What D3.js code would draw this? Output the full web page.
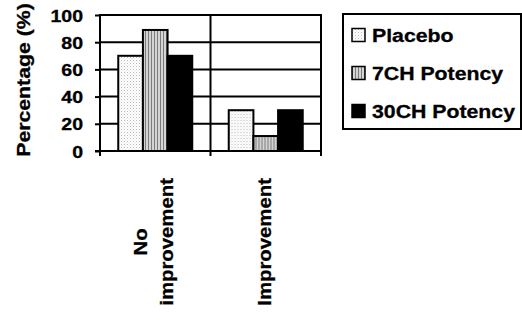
<!DOCTYPE html>
<html>
<head>
<meta charset="utf-8">
<script src="https://cdn.jsdelivr.net/npm/d3@7/dist/d3.min.js"></script>
<style>
  html, body { margin: 0; padding: 0; background: #fff; }
  svg { display: block; }
  text { font-family: "Liberation Sans", Arial, sans-serif; font-weight: bold; fill: #000;
         stroke: #000; stroke-width: 0.3px; }
</style>
</head>
<body>
<svg id="chart" width="522" height="320"></svg>
<script>
// Response categories (line breaks mark label wrapping)
const categories = ["No\nimprovement", "Improvement"];
const seriesNames = ["Placebo", "7CH Potency", "30CH Potency"];
// Percentage of patients in each response category, per treatment arm
const placebo = [70, 30];
const potency7CH = [89, 11];
const potency30CH = [70, 30];
const yTicks = [0, 20, 40, 60, 80, 100];
const yTitle = "Percentage (%)";

const seriesValues = [placebo, potency7CH, potency30CH];
const rows = categories.map((c, i) => ({
  category: c,
  values: seriesNames.map((s, j) => ({ series: s, value: seriesValues[j][i] }))
}));

const svg = d3.select("#chart");
const plot = { left: 100, right: 321, top: 15, bottom: 151 };
const stretch = 1.15;      // widened lettering for ticks, title and legend
const labelStretch = 1.1;  // category labels
const lineW = 2;

// Fill patterns
const defs = svg.append("defs");
const dots = defs.append("pattern").attr("id", "pat-dots")
  .attr("patternUnits", "userSpaceOnUse").attr("width", 3).attr("height", 3);
dots.append("rect").attr("width", 3).attr("height", 3).attr("fill", "#fff");
dots.append("rect").attr("x", 0).attr("y", 0).attr("width", 1).attr("height", 1).attr("fill", "#b8b8b8");
dots.append("rect").attr("x", 1.5).attr("y", 1.5).attr("width", 1).attr("height", 1).attr("fill", "#d8d8d8");

const stripes = defs.append("pattern").attr("id", "pat-stripes")
  .attr("patternUnits", "userSpaceOnUse").attr("width", 3).attr("height", 3);
stripes.append("rect").attr("width", 3).attr("height", 3).attr("fill", "#d4d4d4");
stripes.append("rect").attr("x", 0).attr("width", 1).attr("height", 3).attr("fill", "#7c7c7c");

const fills = d3.scaleOrdinal().domain(seriesNames)
  .range(["url(#pat-dots)", "url(#pat-stripes)", "#000"]);

// Scales
const x = d3.scaleBand().domain(categories).range([plot.left, plot.right]).paddingInner(0).paddingOuter(0);
const xs = d3.scaleBand().domain(seriesNames).range([0, x.bandwidth()]).paddingInner(0).paddingOuter(0.74);
const y = d3.scaleLinear().domain([0, 100]).range([plot.bottom, plot.top]);

// Horizontal gridlines
svg.append("g").selectAll("line").data(yTicks.filter(t => t > 0)).join("line")
  .attr("x1", plot.left).attr("x2", plot.right)
  .attr("y1", d => y(d)).attr("y2", d => y(d))
  .attr("stroke", "#000").attr("stroke-width", lineW);

// Vertical separators at category boundaries
const bounds = categories.map(c => x(c)).concat([x(categories[categories.length - 1]) + x.bandwidth()]);
svg.append("g").selectAll("line").data(bounds.slice(1)).join("line")
  .attr("x1", d => d).attr("x2", d => d)
  .attr("y1", plot.top - 1).attr("y2", plot.bottom)
  .attr("stroke", "#000").attr("stroke-width", lineW);

// Bars
const groups = svg.append("g").selectAll("g").data(rows).join("g")
  .attr("transform", d => `translate(${x(d.category)},0)`);
groups.selectAll("rect").data(d => d.values).join("rect")
  .attr("x", d => xs(d.series))
  .attr("width", xs.bandwidth())
  .attr("y", d => y(d.value))
  .attr("height", d => y(0) - y(d.value))
  .attr("fill", d => fills(d.series))
  .attr("stroke", "#000").attr("stroke-width", lineW);

// Y axis
const yAxis = svg.append("g").attr("transform", `translate(${plot.left},0)`)
  .call(d3.axisLeft(y).tickValues(yTicks).tickSize(5).tickPadding(0).tickFormat(d3.format("d")));
yAxis.attr("font-family", null).attr("font-size", null);
yAxis.select(".domain").attr("stroke", "#000").attr("stroke-width", lineW).attr("d", `M0,${plot.top - 1}V${plot.bottom + 1}`);
yAxis.selectAll(".tick line").attr("stroke", "#000").attr("stroke-width", lineW);
yAxis.selectAll(".tick text")
  .attr("x", null).attr("dy", null).attr("text-anchor", "end")
  .style("font-size", "17px")
  .attr("transform", `translate(-17,6) scale(${stretch},1)`);

// X axis with boundary ticks
const xAxisG = svg.append("g");
xAxisG.append("line").attr("x1", plot.left - 5).attr("x2", plot.right + 1)
  .attr("y1", plot.bottom).attr("y2", plot.bottom)
  .attr("stroke", "#000").attr("stroke-width", lineW);
xAxisG.selectAll("line.btick").data(bounds).join("line").attr("class", "btick")
  .attr("x1", d => d).attr("x2", d => d)
  .attr("y1", plot.bottom).attr("y2", plot.bottom + 5)
  .attr("stroke", "#000").attr("stroke-width", lineW);

// Category labels, rotated, lines centered on each other
const labelTop = 178, lineGap = 26, labelSize = 18.5;
categories.forEach(c => {
  const lines = c.split("\n");
  const cx = x(c) + x.bandwidth() / 2;
  const g = svg.append("g");
  const texts = lines.map(ln => g.append("text").text(ln).style("font-size", labelSize + "px")
    .attr("text-anchor", "middle"));
  const maxLen = d3.max(texts, t => t.node().getComputedTextLength()) * labelStretch;
  const cy = labelTop + maxLen / 2;
  texts.forEach((t, i) => {
    const bx = cx + (i - (lines.length - 1) / 2) * lineGap + 5;
    t.attr("transform", `translate(${bx},${cy}) rotate(-90) scale(${labelStretch},1)`);
  });
});

// Y axis title
svg.append("text").text(yTitle)
  .style("font-size", "18.5px").attr("text-anchor", "middle")
  .attr("transform", `translate(30,80) rotate(-90) scale(${stretch},1)`);

// Legend
const legend = svg.append("g");
legend.append("rect").attr("x", 343).attr("y", 14).attr("width", 178).attr("height", 115)
  .attr("fill", "#fff").attr("stroke", "#000").attr("stroke-width", lineW);
const leg = legend.selectAll("g.item").data(seriesNames).join("g").attr("class", "item")
  .attr("transform", (d, i) => `translate(352,${35 + i * 38})`);
leg.append("rect").attr("x", 0).attr("y", -6.5).attr("width", 13).attr("height", 13)
  .attr("fill", d => fills(d)).attr("stroke", "#000").attr("stroke-width", 1.5);
leg.append("text").text(d => d).style("font-size", "18.5px")
  .attr("transform", `translate(20,7) scale(${stretch},1)`);
</script>
</body>
</html>
